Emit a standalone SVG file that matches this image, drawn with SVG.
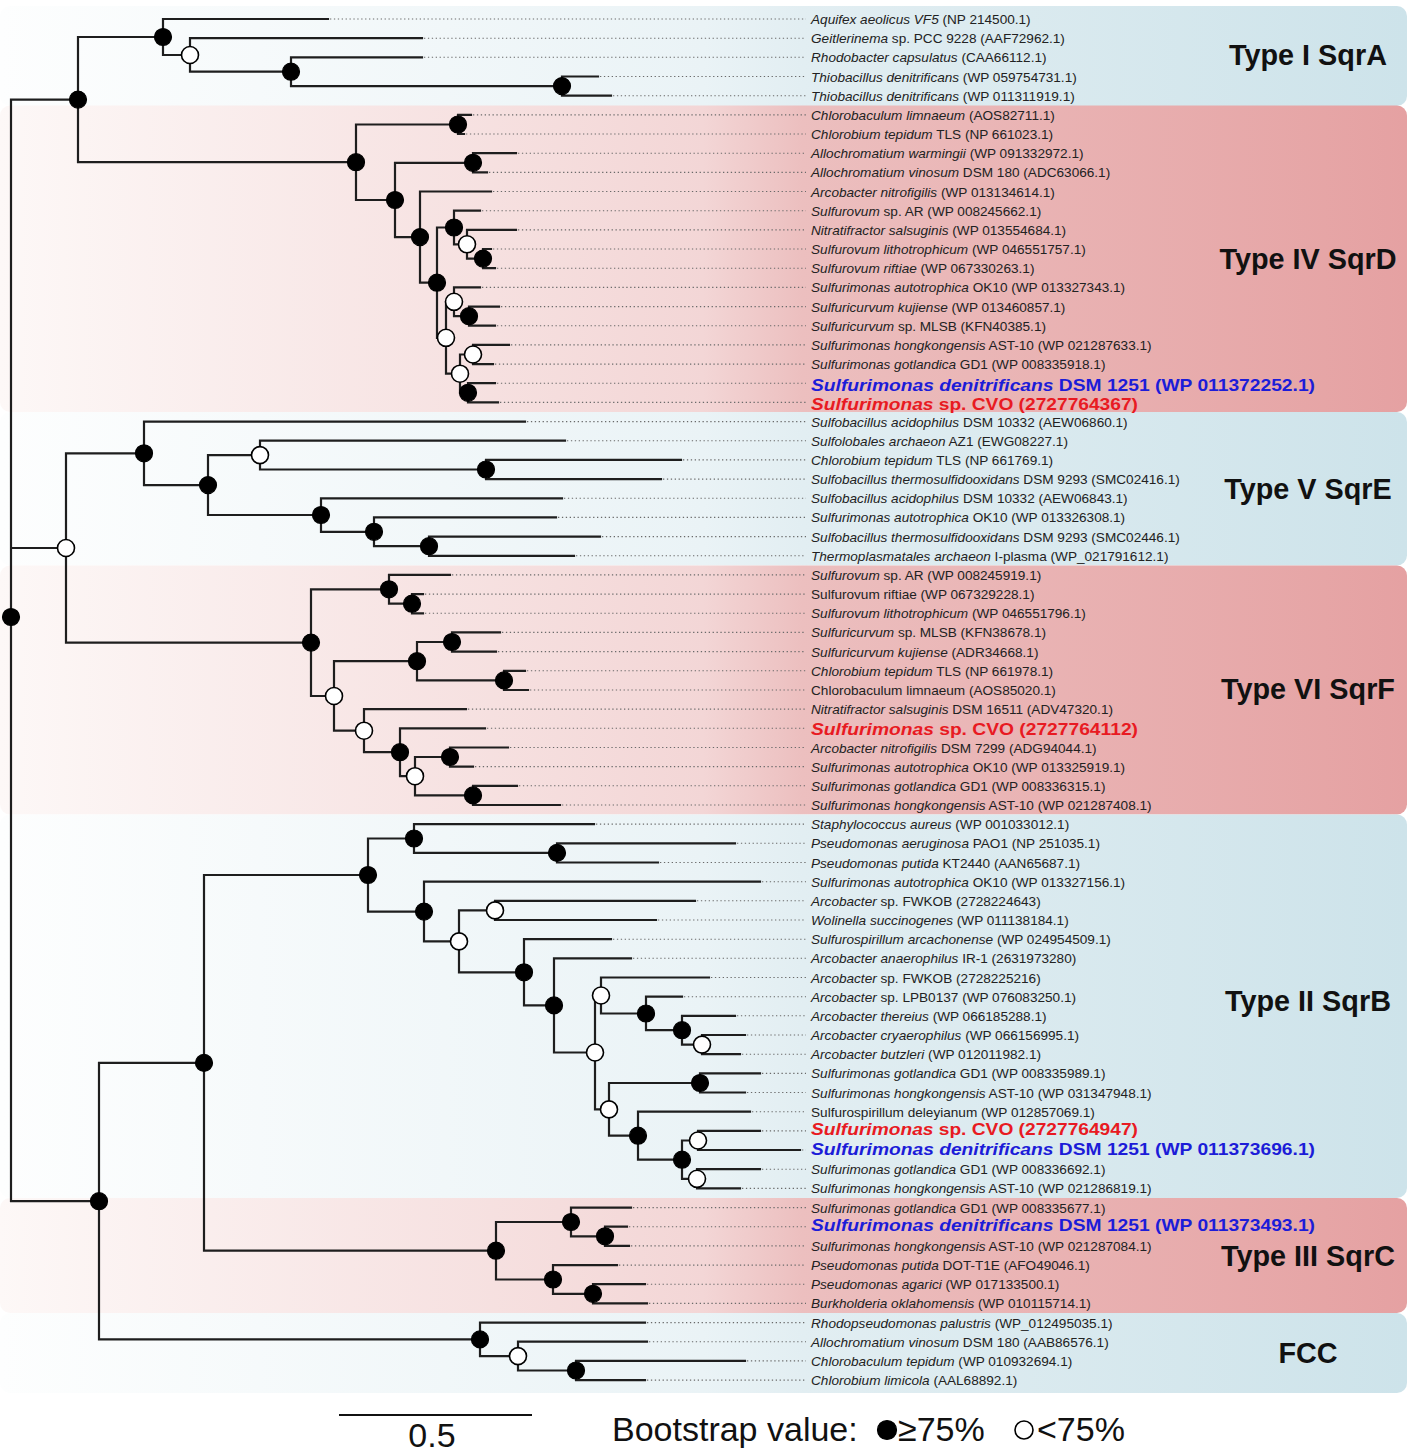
<svg xmlns="http://www.w3.org/2000/svg" width="1407" height="1454" viewBox="0 0 1407 1454">
<defs>
<linearGradient id="gB" x1="0" y1="0" x2="1407" y2="0" gradientUnits="userSpaceOnUse">
<stop offset="0" stop-color="#fdfefe"/><stop offset="0.5" stop-color="#eaf3f6"/><stop offset="0.57" stop-color="#e2eef2"/><stop offset="1" stop-color="#cde3ea"/>
</linearGradient>
<linearGradient id="gP" x1="0" y1="0" x2="1407" y2="0" gradientUnits="userSpaceOnUse">
<stop offset="0" stop-color="#fdf8f7"/><stop offset="0.5" stop-color="#f3d6d6"/><stop offset="0.57" stop-color="#ecbfbf"/><stop offset="1" stop-color="#e5a1a2"/>
</linearGradient>
<style>
.tr{fill:none;stroke:#1e1e1e;stroke-width:2.2;stroke-linecap:square}
.dt{fill:none;stroke:#6a6a6a;stroke-width:1.1;stroke-dasharray:1.3 2.6}
.nb{fill:#000;stroke:#000;stroke-width:1.2}
.nw{fill:#fff;stroke:#000;stroke-width:1.6}
.lb{font-family:"Liberation Sans",Arial,sans-serif;font-size:13.6px;fill:#222}
.it{font-style:italic}
.hb{font-family:"Liberation Sans",Arial,sans-serif;font-size:17px;font-weight:bold}
.red{fill:#e81a22}
.blue{fill:#1c1cd8}
.ty{font-family:"Liberation Sans",Arial,sans-serif;font-size:28.8px;font-weight:bold;fill:#111;text-anchor:middle}
.lg{font-family:"Liberation Sans",Arial,sans-serif;font-size:34px;fill:#111}
</style>
</defs>

<g id="bands">
<rect x="0" y="6" width="1407" height="100" rx="10" fill="url(#gB)"/>
<rect x="0" y="105.5" width="1407" height="306.5" rx="10" fill="url(#gP)"/>
<rect x="0" y="412" width="1407" height="153.5" rx="10" fill="url(#gB)"/>
<rect x="0" y="565.5" width="1407" height="249" rx="10" fill="url(#gP)"/>
<rect x="0" y="814.5" width="1407" height="383.5" rx="10" fill="url(#gB)"/>
<rect x="0" y="1198" width="1407" height="115" rx="10" fill="url(#gP)"/>
<rect x="0" y="1313" width="1407" height="80" rx="10" fill="url(#gB)"/>
</g>

<g id="connectors">
<path class="tr" d="M11 99.6V1201.2M11 99.6H78M11 548H66M11 1201.2H99
M78 37V162.2M78 37H163M78 162.2H356
M163 19V55M163 19H328M163 55H190
M190 38.2V71.7M190 38.2H422M190 71.7H291
M291 57.3V86.1M291 57.3H422M291 86.1H562
M562 76.5V95.7M562 76.5H598M562 95.7H611
M356 124.5V200M356 124.5H458M356 200H395
M458 114.9V134M458 114.9H471M458 134H464
M395 162.8V237.1M395 162.8H473M395 237.1H420
M473 153.2V172.4M473 153.2H516M473 172.4H487
M420 191.5V282.7M420 191.5H491M420 282.7H437
M437 227.5V337.8M437 227.5H454M437 337.8H446
M454 210.7V244.3M454 210.7H480M454 244.3H467
M467 229.9V258.6M467 229.9H516M467 258.6H483
M483 249V268.2M483 249H491M483 268.2H495
M446 301.8V373.7M446 301.8H454M446 373.7H460
M454 287.4V316.2M454 287.4H480M454 316.2H469
M469 306.6V325.7M469 306.6H499M469 325.7H495
M460 354.5V392.8M460 354.5H473M460 392.8H468
M473 344.9V364.1M473 344.9H509M473 364.1H493
M468 383.2V402.4M468 383.2H495M468 402.4H498"/>
<path class="tr" d="M66 453.3V642.6M66 453.3H144M66 642.6H311
M144 421.6V485.1M144 421.6H525M144 485.1H208
M208 455.1V515M208 455.1H260M208 515H321
M260 440.7V469.5M260 440.7H565M260 469.5H486
M486 459.9V479.1M486 459.9H681M486 479.1H661
M321 498.3V531.8M321 498.3H562M321 531.8H374
M374 517.4V546.2M374 517.4H556M374 546.2H429
M429 536.6V555.8M429 536.6H600M429 555.8H574
M311 589.3V696M311 589.3H389M311 696H334
M389 574.9V603.7M389 574.9H450M389 603.7H412
M412 594.1V613.3M412 594.1H423M412 613.3H423
M334 661.2V730.7M334 661.2H417M334 730.7H364
M417 642V680.4M417 642H452M417 680.4H504
M452 632.4V651.6M452 632.4H500M452 651.6H496
M504 670.8V690M504 670.8H525M504 690H528
M364 709.1V752.2M364 709.1H466M364 752.2H400
M400 728.3V776.2M400 728.3H485M400 776.2H415
M415 757V795.4M415 757H450M415 795.4H473
M450 747.5V766.6M450 747.5H508M450 766.6H473
M473 785.8V805M473 785.8H517M473 805H560"/>
<path class="tr" d="M99 1062.9V1339.4M99 1062.9H204M99 1339.4H480
M204 875V1250.7M204 875H368M204 1250.7H496
M368 838.5V911.6M368 838.5H414M368 911.6H424
M414 824.1V852.9M414 824.1H594M414 852.9H557
M557 843.3V862.5M557 843.3H735M557 862.5H658
M424 881.7V941.4M424 881.7H760M424 941.4H459
M459 910.4V972.3M459 910.4H495M459 972.3H524
M495 900.8V920M495 900.8H695M495 920H656
M524 939.2V1005.4M524 939.2H611M524 1005.4H554
M554 958.3V1052.5M554 958.3H631M554 1052.5H595
M595 995.5V1109.4M595 995.5H601M595 1109.4H609
M601 977.5V1013.5M601 977.5H709M601 1013.5H646
M646 996.7V1030.2M646 996.7H682M646 1030.2H682
M682 1015.8V1044.6M682 1015.8H735M682 1044.6H702
M702 1035V1054.2M702 1035H745M702 1054.2H740
M609 1083V1135.7M609 1083H700M609 1135.7H638
M700 1073.4V1092.5M700 1073.4H760M700 1092.5H745
M638 1111.7V1159.7M638 1111.7H750M638 1159.7H682
M682 1140.5V1178.8M682 1140.5H698M682 1178.8H697
M698 1130.9V1150M698 1130.9H760M698 1150H800
M697 1169.2V1188.4M697 1169.2H760M697 1188.4H740
M496 1222V1279.5M496 1222H571M496 1279.5H553
M571 1207.6V1236.3M571 1207.6H631M571 1236.3H605
M605 1226.7V1245.9M605 1226.7H627M605 1245.9H629
M553 1265.1V1293.8M553 1265.1H617M553 1293.8H593
M593 1284.2V1303.4M593 1284.2H645M593 1303.4H647
M480 1322.6V1356.1M480 1322.6H645M480 1356.1H518
M518 1341.7V1370.5M518 1341.7H647M518 1370.5H576
M576 1360.9V1380.1M576 1360.9H745M576 1380.1H645"/>
<path class="dt" d="M330 19H806M424 38.2H806M424 57.3H806M600 76.5H806M613 95.7H806
M473 114.9H806M466 134H806M518 153.2H806M489 172.4H806M493 191.5H806
M482 210.7H806M518 229.9H806M493 249H806M497 268.2H806M482 287.4H806
M501 306.6H806M497 325.7H806M511 344.9H806M495 364.1H806M497 383.2H806
M500 402.4H806M527 421.6H806M567 440.7H806M683 459.9H806M663 479.1H806
M564 498.3H806M558 517.4H806M602 536.6H806M576 555.8H806M452 574.9H806
M425 594.1H806M425 613.3H806M502 632.4H806M498 651.6H806M527 670.8H806
M530 690H806M468 709.1H806M487 728.3H806M510 747.5H806M475 766.6H806
M519 785.8H806M562 805H806M596 824.1H806M737 843.3H806M660 862.5H806
M762 881.7H806M697 900.8H806M658 920H806M613 939.2H806M633 958.3H806
M711 977.5H806M684 996.7H806M737 1015.8H806M747 1035H806M742 1054.2H806
M762 1073.4H806M747 1092.5H806M752 1111.7H806M762 1130.9H806M802 1150H806
M762 1169.2H806M742 1188.4H806M633 1207.6H806M629 1226.7H806M631 1245.9H806
M619 1265.1H806M647 1284.2H806M649 1303.4H806M647 1322.6H806M649 1341.7H806
M747 1360.9H806M647 1380.1H806"/>
</g>

<g id="bootstrap-nodes">
<circle class="nb" cx="11" cy="617" r="8.5"/>
<circle class="nb" cx="78" cy="99.6" r="8.5"/>
<circle class="nb" cx="163" cy="37" r="8.5"/>
<circle class="nw" cx="190" cy="55" r="8.5"/>
<circle class="nb" cx="291" cy="71.7" r="8.5"/>
<circle class="nb" cx="562" cy="86.1" r="8.5"/>
<circle class="nb" cx="356" cy="162.2" r="8.5"/>
<circle class="nb" cx="458" cy="124.5" r="8.5"/>
<circle class="nb" cx="395" cy="200" r="8.5"/>
<circle class="nb" cx="473" cy="162.8" r="8.5"/>
<circle class="nb" cx="420" cy="237.1" r="8.5"/>
<circle class="nb" cx="437" cy="282.7" r="8.5"/>
<circle class="nb" cx="454" cy="227.5" r="8.5"/>
<circle class="nw" cx="467" cy="244.3" r="8.5"/>
<circle class="nb" cx="483" cy="258.6" r="8.5"/>
<circle class="nw" cx="446" cy="337.8" r="8.5"/>
<circle class="nw" cx="454" cy="301.8" r="8.5"/>
<circle class="nb" cx="469" cy="316.2" r="8.5"/>
<circle class="nw" cx="460" cy="373.7" r="8.5"/>
<circle class="nw" cx="473" cy="354.5" r="8.5"/>
<circle class="nb" cx="468" cy="392.8" r="8.5"/>
<circle class="nw" cx="66" cy="548" r="8.5"/>
<circle class="nb" cx="144" cy="453.3" r="8.5"/>
<circle class="nb" cx="208" cy="485.1" r="8.5"/>
<circle class="nw" cx="260" cy="455.1" r="8.5"/>
<circle class="nb" cx="486" cy="469.5" r="8.5"/>
<circle class="nb" cx="321" cy="515" r="8.5"/>
<circle class="nb" cx="374" cy="531.8" r="8.5"/>
<circle class="nb" cx="429" cy="546.2" r="8.5"/>
<circle class="nb" cx="311" cy="642.6" r="8.5"/>
<circle class="nb" cx="389" cy="589.3" r="8.5"/>
<circle class="nb" cx="412" cy="603.7" r="8.5"/>
<circle class="nw" cx="334" cy="696" r="8.5"/>
<circle class="nb" cx="417" cy="661.2" r="8.5"/>
<circle class="nb" cx="452" cy="642" r="8.5"/>
<circle class="nb" cx="504" cy="680.4" r="8.5"/>
<circle class="nw" cx="364" cy="730.7" r="8.5"/>
<circle class="nb" cx="400" cy="752.2" r="8.5"/>
<circle class="nw" cx="415" cy="776.2" r="8.5"/>
<circle class="nb" cx="450" cy="757" r="8.5"/>
<circle class="nb" cx="473" cy="795.4" r="8.5"/>
<circle class="nb" cx="99" cy="1201.2" r="8.5"/>
<circle class="nb" cx="204" cy="1062.9" r="8.5"/>
<circle class="nb" cx="368" cy="875" r="8.5"/>
<circle class="nb" cx="414" cy="838.5" r="8.5"/>
<circle class="nb" cx="557" cy="852.9" r="8.5"/>
<circle class="nb" cx="424" cy="911.6" r="8.5"/>
<circle class="nw" cx="459" cy="941.4" r="8.5"/>
<circle class="nw" cx="495" cy="910.4" r="8.5"/>
<circle class="nb" cx="524" cy="972.3" r="8.5"/>
<circle class="nb" cx="554" cy="1005.4" r="8.5"/>
<circle class="nw" cx="595" cy="1052.5" r="8.5"/>
<circle class="nw" cx="601" cy="995.5" r="8.5"/>
<circle class="nb" cx="646" cy="1013.5" r="8.5"/>
<circle class="nb" cx="682" cy="1030.2" r="8.5"/>
<circle class="nw" cx="702" cy="1044.6" r="8.5"/>
<circle class="nw" cx="609" cy="1109.4" r="8.5"/>
<circle class="nb" cx="700" cy="1083" r="8.5"/>
<circle class="nb" cx="638" cy="1135.7" r="8.5"/>
<circle class="nb" cx="682" cy="1159.7" r="8.5"/>
<circle class="nw" cx="698" cy="1140.5" r="8.5"/>
<circle class="nw" cx="697" cy="1178.8" r="8.5"/>
<circle class="nb" cx="496" cy="1250.7" r="8.5"/>
<circle class="nb" cx="571" cy="1222" r="8.5"/>
<circle class="nb" cx="605" cy="1236.3" r="8.5"/>
<circle class="nb" cx="553" cy="1279.5" r="8.5"/>
<circle class="nb" cx="593" cy="1293.8" r="8.5"/>
<circle class="nb" cx="480" cy="1339.4" r="8.5"/>
<circle class="nw" cx="518" cy="1356.1" r="8.5"/>
<circle class="nb" cx="576" cy="1370.5" r="8.5"/>
</g>

<g id="leaves">
<g id="leaf1"><text class="lb" x="811" y="24"><tspan class="it">Aquifex aeolicus VF5</tspan> (NP 214500.1)</text></g>
<g id="leaf2"><text class="lb" x="811" y="43.2"><tspan class="it">Geitlerinema</tspan> sp. PCC 9228 (AAF72962.1)</text></g>
<g id="leaf3"><text class="lb" x="811" y="62.3"><tspan class="it">Rhodobacter capsulatus</tspan> (CAA66112.1)</text></g>
<g id="leaf4"><text class="lb" x="811" y="81.5"><tspan class="it">Thiobacillus denitrificans</tspan> (WP 059754731.1)</text></g>
<g id="leaf5"><text class="lb" x="811" y="100.7"><tspan class="it">Thiobacillus denitrificans</tspan> (WP 011311919.1)</text></g>
<g id="leaf6"><text class="lb" x="811" y="119.9"><tspan class="it">Chlorobaculum limnaeum</tspan> (AOS82711.1)</text></g>
<g id="leaf7"><text class="lb" x="811" y="139"><tspan class="it">Chlorobium tepidum</tspan> TLS (NP 661023.1)</text></g>
<g id="leaf8"><text class="lb" x="811" y="158.2"><tspan class="it">Allochromatium warmingii</tspan> (WP 091332972.1)</text></g>
<g id="leaf9"><text class="lb" x="811" y="177.4"><tspan class="it">Allochromatium vinosum</tspan> DSM 180 (ADC63066.1)</text></g>
<g id="leaf10"><text class="lb" x="811" y="196.5"><tspan class="it">Arcobacter nitrofigilis</tspan> (WP 013134614.1)</text></g>
<g id="leaf11"><text class="lb" x="811" y="215.7"><tspan class="it">Sulfurovum</tspan> sp. AR (WP 008245662.1)</text></g>
<g id="leaf12"><text class="lb" x="811" y="234.9"><tspan class="it">Nitratifractor salsuginis</tspan> (WP 013554684.1)</text></g>
<g id="leaf13"><text class="lb" x="811" y="254"><tspan class="it">Sulfurovum lithotrophicum</tspan> (WP 046551757.1)</text></g>
<g id="leaf14"><text class="lb" x="811" y="273.2"><tspan class="it">Sulfurovum riftiae</tspan> (WP 067330263.1)</text></g>
<g id="leaf15"><text class="lb" x="811" y="292.4"><tspan class="it">Sulfurimonas autotrophica</tspan> OK10 (WP 013327343.1)</text></g>
<g id="leaf16"><text class="lb" x="811" y="311.6"><tspan class="it">Sulfuricurvum kujiense</tspan> (WP 013460857.1)</text></g>
<g id="leaf17"><text class="lb" x="811" y="330.7"><tspan class="it">Sulfuricurvum</tspan> sp. MLSB (KFN40385.1)</text></g>
<g id="leaf18"><text class="lb" x="811" y="349.9"><tspan class="it">Sulfurimonas hongkongensis</tspan> AST-10 (WP 021287633.1)</text></g>
<g id="leaf19"><text class="lb" x="811" y="369.1"><tspan class="it">Sulfurimonas gotlandica</tspan> GD1 (WP 008335918.1)</text></g>
<g id="leaf20"><text class="hb blue" x="811" y="391" textLength="504" lengthAdjust="spacingAndGlyphs"><tspan class="it">Sulfurimonas denitrificans</tspan> DSM 1251 (WP 011372252.1)</text></g>
<g id="leaf21"><text class="hb red" x="811" y="410" textLength="327" lengthAdjust="spacingAndGlyphs"><tspan class="it">Sulfurimonas</tspan> sp. CVO (2727764367)</text></g>
<g id="leaf22"><text class="lb" x="811" y="426.6"><tspan class="it">Sulfobacillus acidophilus</tspan> DSM 10332 (AEW06860.1)</text></g>
<g id="leaf23"><text class="lb" x="811" y="445.7"><tspan class="it">Sulfolobales archaeon</tspan> AZ1 (EWG08227.1)</text></g>
<g id="leaf24"><text class="lb" x="811" y="464.9"><tspan class="it">Chlorobium tepidum</tspan> TLS (NP 661769.1)</text></g>
<g id="leaf25"><text class="lb" x="811" y="484.1"><tspan class="it">Sulfobacillus thermosulfidooxidans</tspan> DSM 9293 (SMC02416.1)</text></g>
<g id="leaf26"><text class="lb" x="811" y="503.3"><tspan class="it">Sulfobacillus acidophilus</tspan> DSM 10332 (AEW06843.1)</text></g>
<g id="leaf27"><text class="lb" x="811" y="522.4"><tspan class="it">Sulfurimonas autotrophica</tspan> OK10 (WP 013326308.1)</text></g>
<g id="leaf28"><text class="lb" x="811" y="541.6"><tspan class="it">Sulfobacillus thermosulfidooxidans</tspan> DSM 9293 (SMC02446.1)</text></g>
<g id="leaf29"><text class="lb" x="811" y="560.8"><tspan class="it">Thermoplasmatales archaeon</tspan> I-plasma (WP_021791612.1)</text></g>
<g id="leaf30"><text class="lb" x="811" y="579.9"><tspan class="it">Sulfurovum</tspan> sp. AR (WP 008245919.1)</text></g>
<g id="leaf31"><text class="lb" x="811" y="599.1">Sulfurovum riftiae (WP 067329228.1)</text></g>
<g id="leaf32"><text class="lb" x="811" y="618.3"><tspan class="it">Sulfurovum lithotrophicum</tspan> (WP 046551796.1)</text></g>
<g id="leaf33"><text class="lb" x="811" y="637.4"><tspan class="it">Sulfuricurvum</tspan> sp. MLSB (KFN38678.1)</text></g>
<g id="leaf34"><text class="lb" x="811" y="656.6"><tspan class="it">Sulfuricurvum kujiense</tspan> (ADR34668.1)</text></g>
<g id="leaf35"><text class="lb" x="811" y="675.8"><tspan class="it">Chlorobium tepidum</tspan> TLS (NP 661978.1)</text></g>
<g id="leaf36"><text class="lb" x="811" y="695">Chlorobaculum limnaeum (AOS85020.1)</text></g>
<g id="leaf37"><text class="lb" x="811" y="714.1"><tspan class="it">Nitratifractor salsuginis</tspan> DSM 16511 (ADV47320.1)</text></g>
<g id="leaf38"><text class="hb red" x="811" y="734.5" textLength="327" lengthAdjust="spacingAndGlyphs"><tspan class="it">Sulfurimonas</tspan> sp. CVO (2727764112)</text></g>
<g id="leaf39"><text class="lb" x="811" y="752.5"><tspan class="it">Arcobacter nitrofigilis</tspan> DSM 7299 (ADG94044.1)</text></g>
<g id="leaf40"><text class="lb" x="811" y="771.6"><tspan class="it">Sulfurimonas autotrophica</tspan> OK10 (WP 013325919.1)</text></g>
<g id="leaf41"><text class="lb" x="811" y="790.8"><tspan class="it">Sulfurimonas gotlandica</tspan> GD1 (WP 008336315.1)</text></g>
<g id="leaf42"><text class="lb" x="811" y="810"><tspan class="it">Sulfurimonas hongkongensis</tspan> AST-10 (WP 021287408.1)</text></g>
<g id="leaf43"><text class="lb" x="811" y="829.1"><tspan class="it">Staphylococcus aureus</tspan> (WP 001033012.1)</text></g>
<g id="leaf44"><text class="lb" x="811" y="848.3"><tspan class="it">Pseudomonas aeruginosa</tspan> PAO1 (NP 251035.1)</text></g>
<g id="leaf45"><text class="lb" x="811" y="867.5"><tspan class="it">Pseudomonas putida</tspan> KT2440 (AAN65687.1)</text></g>
<g id="leaf46"><text class="lb" x="811" y="886.7"><tspan class="it">Sulfurimonas autotrophica</tspan> OK10 (WP 013327156.1)</text></g>
<g id="leaf47"><text class="lb" x="811" y="905.8"><tspan class="it">Arcobacter</tspan> sp. FWKOB (2728224643)</text></g>
<g id="leaf48"><text class="lb" x="811" y="925"><tspan class="it">Wolinella succinogenes</tspan> (WP 011138184.1)</text></g>
<g id="leaf49"><text class="lb" x="811" y="944.2"><tspan class="it">Sulfurospirillum arcachonense</tspan> (WP 024954509.1)</text></g>
<g id="leaf50"><text class="lb" x="811" y="963.3"><tspan class="it">Arcobacter anaerophilus</tspan> IR-1 (2631973280)</text></g>
<g id="leaf51"><text class="lb" x="811" y="982.5"><tspan class="it">Arcobacter</tspan> sp. FWKOB (2728225216)</text></g>
<g id="leaf52"><text class="lb" x="811" y="1001.7"><tspan class="it">Arcobacter</tspan> sp. LPB0137 (WP 076083250.1)</text></g>
<g id="leaf53"><text class="lb" x="811" y="1020.8"><tspan class="it">Arcobacter thereius</tspan> (WP 066185288.1)</text></g>
<g id="leaf54"><text class="lb" x="811" y="1040"><tspan class="it">Arcobacter cryaerophilus</tspan> (WP 066156995.1)</text></g>
<g id="leaf55"><text class="lb" x="811" y="1059.2"><tspan class="it">Arcobacter butzleri</tspan> (WP 012011982.1)</text></g>
<g id="leaf56"><text class="lb" x="811" y="1078.4"><tspan class="it">Sulfurimonas gotlandica</tspan> GD1 (WP 008335989.1)</text></g>
<g id="leaf57"><text class="lb" x="811" y="1097.5"><tspan class="it">Sulfurimonas hongkongensis</tspan> AST-10 (WP 031347948.1)</text></g>
<g id="leaf58"><text class="lb" x="811" y="1116.7">Sulfurospirillum deleyianum (WP 012857069.1)</text></g>
<g id="leaf59"><text class="hb red" x="811" y="1134.5" textLength="327" lengthAdjust="spacingAndGlyphs"><tspan class="it">Sulfurimonas</tspan> sp. CVO (2727764947)</text></g>
<g id="leaf60"><text class="hb blue" x="811" y="1155" textLength="504" lengthAdjust="spacingAndGlyphs"><tspan class="it">Sulfurimonas denitrificans</tspan> DSM 1251 (WP 011373696.1)</text></g>
<g id="leaf61"><text class="lb" x="811" y="1174.2"><tspan class="it">Sulfurimonas gotlandica</tspan> GD1 (WP 008336692.1)</text></g>
<g id="leaf62"><text class="lb" x="811" y="1193.4"><tspan class="it">Sulfurimonas hongkongensis</tspan> AST-10 (WP 021286819.1)</text></g>
<g id="leaf63"><text class="lb" x="811" y="1212.6"><tspan class="it">Sulfurimonas gotlandica</tspan> GD1 (WP 008335677.1)</text></g>
<g id="leaf64"><text class="hb blue" x="811" y="1231" textLength="504" lengthAdjust="spacingAndGlyphs"><tspan class="it">Sulfurimonas denitrificans</tspan> DSM 1251 (WP 011373493.1)</text></g>
<g id="leaf65"><text class="lb" x="811" y="1250.9"><tspan class="it">Sulfurimonas hongkongensis</tspan> AST-10 (WP 021287084.1)</text></g>
<g id="leaf66"><text class="lb" x="811" y="1270.1"><tspan class="it">Pseudomonas putida</tspan> DOT-T1E (AFO49046.1)</text></g>
<g id="leaf67"><text class="lb" x="811" y="1289.2"><tspan class="it">Pseudomonas agarici</tspan> (WP 017133500.1)</text></g>
<g id="leaf68"><text class="lb" x="811" y="1308.4"><tspan class="it">Burkholderia oklahomensis</tspan> (WP 010115714.1)</text></g>
<g id="leaf69"><text class="lb" x="811" y="1327.6"><tspan class="it">Rhodopseudomonas palustris</tspan> (WP_012495035.1)</text></g>
<g id="leaf70"><text class="lb" x="811" y="1346.7"><tspan class="it">Allochromatium vinosum</tspan> DSM 180 (AAB86576.1)</text></g>
<g id="leaf71"><text class="lb" x="811" y="1365.9"><tspan class="it">Chlorobaculum tepidum</tspan> (WP 010932694.1)</text></g>
<g id="leaf72"><text class="lb" x="811" y="1385.1"><tspan class="it">Chlorobium limicola</tspan> (AAL68892.1)</text></g>
</g>

<g id="clade-labels">
<text class="ty" x="1308" y="64.5">Type I SqrA</text>
<text class="ty" x="1308" y="268.5">Type IV SqrD</text>
<text class="ty" x="1308" y="498.5">Type V SqrE</text>
<text class="ty" x="1308" y="698.5">Type VI SqrF</text>
<text class="ty" x="1308" y="1010.5">Type II SqrB</text>
<text class="ty" x="1308" y="1265.5">Type III SqrC</text>
<text class="ty" x="1308" y="1362.5">FCC</text>
</g>

<g id="legend">
<path d="M339 1415H532" stroke="#111" stroke-width="2" fill="none"/>
<text class="lg" x="432" y="1447" text-anchor="middle" font-size="31">0.5</text>
<text class="lg" x="612" y="1441">Bootstrap value:</text>
<circle class="nb" cx="887" cy="1430" r="9.5"/>
<text class="lg" x="898" y="1441">≥75%</text>
<circle class="nw" cx="1024" cy="1430" r="9"/>
<text class="lg" x="1037" y="1441">&lt;75%</text>
</g>
</svg>
